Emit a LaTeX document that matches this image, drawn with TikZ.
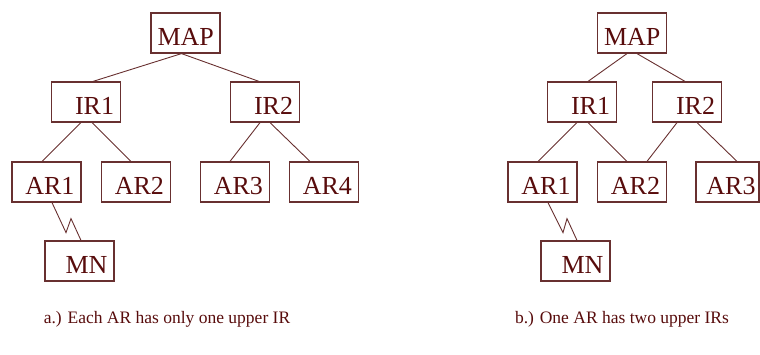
\documentclass[tikz,border=0pt]{standalone}
\usepackage{fontspec}
\setmainfont{Liberation Serif}
\usepackage[dvipsnames]{xcolor}
\definecolor{boxline}{RGB}{104,48,48}
\definecolor{boxtext}{RGB}{88,12,12}

\begin{document}
\begin{tikzpicture}[x=1pt,y=-1pt,line width=0.9pt,color=boxline,box node/.style={rectangle,draw=boxline,line width=1.2pt,text=boxtext,minimum height=40pt,text width=56pt,align=right,inner xsep=6.5pt,inner ysep=0pt,text height=24pt,text depth=0pt,font=\fontsize{26}{26}\selectfont},caption node/.style={text=boxtext,font=\fontsize{17.5}{20}\selectfont}]
                \useasboundingbox (0,0) rectangle (760,354);

                % a.) every AR below a single IR
                \node[box node] (mapA) at (185.5,33) {MAP};
                \node[box node] (ir1A) at (86,102) {IR1};
                \node[box node] (ir2A) at (265,102) {IR2};
                \node[box node] (ar1A) at (46.5,182) {AR1};
                \node[box node] (ar2A) at (136,182) {AR2};
                \node[box node] (ar3A) at (235,182) {AR3};
                \node[box node] (ar4A) at (324,182) {AR4};
                \node[box node] (mnA) at (79.5,261) {MN};

                \path
                    ([xshift=-4pt]mapA.south) edge ([xshift=7pt]ir1A.north)
                    ([xshift=-4pt]mapA.south) edge ([xshift=-6pt]ir2A.north)
                    ([xshift=-5pt]ir1A.south) edge ([xshift=-4.5pt]ar1A.north)
                    ([xshift=6pt]ir1A.south) edge ([xshift=-5pt]ar2A.north)
                    ([xshift=-5pt]ir2A.south) edge ([xshift=-5pt]ar3A.north)
                    ([xshift=5pt]ir2A.south) edge ([xshift=-14pt]ar4A.north)
                ;
                % wireless hop down to the MN
                \draw ([xshift=5.5pt]ar1A.south) -- ++(14,30) -- ++(5,-14) -- ([xshift=1.5pt]mnA.north);

                % b.) AR2 shared by both IRs
                \node[box node] (mapB) at (632,33) {MAP};
                \node[box node] (ir1B) at (582,102) {IR1};
                \node[box node] (ir2B) at (687,102) {IR2};
                \node[box node] (ar1B) at (542.5,182) {AR1};
                \node[box node] (ar2B) at (632,182) {AR2};
                \node[box node,inner xsep=3.5pt] (ar3B) at (727.5,182) {AR3};
                \node[box node] (mnB) at (575.5,261) {MN};

                \path
                    ([xshift=-5pt]mapB.south) edge ([xshift=6pt]ir1B.north)
                    ([xshift=5pt]mapB.south) edge ([xshift=-2pt]ir2B.north)
                    ([xshift=-5pt]ir1B.south) edge ([xshift=-4.5pt]ar1B.north)
                    ([xshift=6pt]ir1B.south) edge ([xshift=-5pt]ar2B.north)
                    ([xshift=-10pt]ir2B.south) edge ([xshift=15pt]ar2B.north)
                    ([xshift=10pt]ir2B.south) edge ([xshift=9.5pt]ar3B.north)
                ;
                \draw ([xshift=5.5pt]ar1B.south) -- ++(15,30) -- ++(4,-14) -- ([xshift=1.5pt]mnB.north);

                \node[caption node] (capA) at (167,319) {a.) Each AR has only one upper IR};
                \node[caption node] (capB) at (622,319) {b.) One AR has two upper IRs};

            \end{tikzpicture}
\end{document}
